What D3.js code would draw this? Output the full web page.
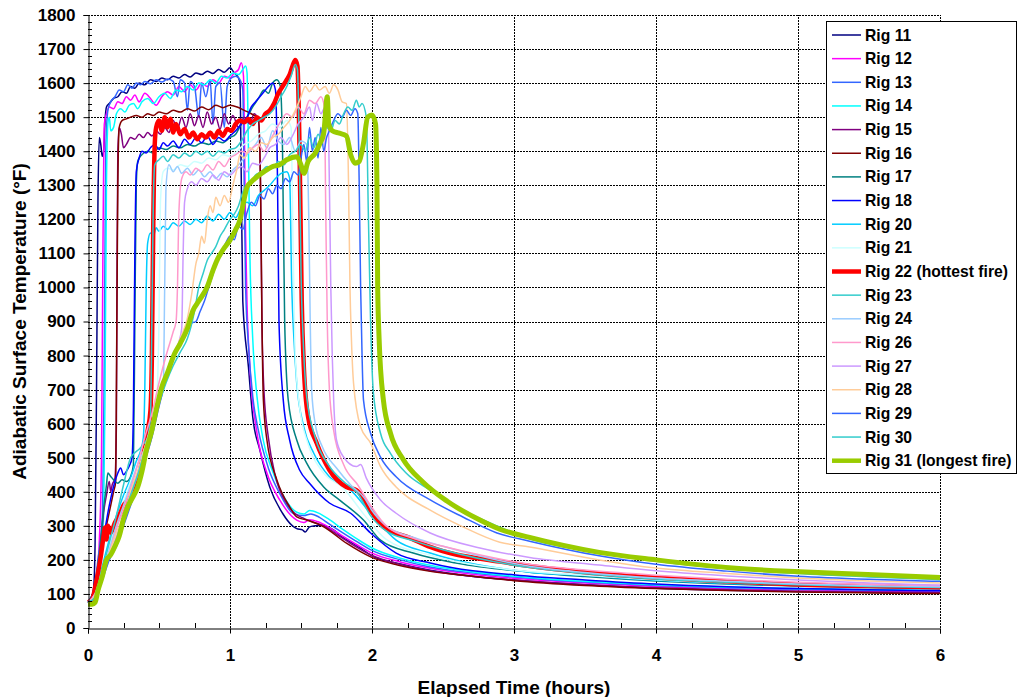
<!DOCTYPE html>
<html><head><meta charset="utf-8">
<script src="https://cdn.jsdelivr.net/npm/d3@7"></script>
<style>body{margin:0;background:#fff} svg{display:block} text{font-family:Arial,"Liberation Sans",sans-serif;font-weight:bold;fill:#000}</style>
</head><body><svg id="c" width="1021" height="697"></svg>
<script>
const xTicks = [0,1,2,3,4,5,6];
const yTicks = [0,100,200,300,400,500,600,700,800,900,1000,1100,1200,1300,1400,1500,1600,1700,1800];
const rigNames = ["Rig 11","Rig 12","Rig 13","Rig 14","Rig 15","Rig 16","Rig 17","Rig 18","Rig 20","Rig 21","Rig 22 (hottest fire)","Rig 23","Rig 24","Rig 26","Rig 27","Rig 28","Rig 29","Rig 30","Rig 31 (longest fire)"];

const rig11 = [[0,78],[0.02,82],[0.04,120],[0.05,250],[0.06,700],[0.07,1250],[0.08,1440],[0.09,1420],[0.1,1385],[0.11,1400],[0.12,1490],[0.13,1530],[0.15,1540],[0.18,1555],[0.21,1560],[0.24,1575],[0.27,1570],[0.3,1590],[0.33,1585],[0.36,1600],[0.4,1595],[0.44,1610],[0.48,1605],[0.52,1615],[0.56,1610],[0.6,1620],[0.64,1615],[0.68,1625],[0.72,1618],[0.76,1630],[0.8,1625],[0.84,1635],[0.88,1628],[0.92,1640],[0.96,1632],[1.0,1645],[1.03,1630],[1.06,1615],[1.07,1600],[1.08,1300],[1.09,960],[1.13,766],[1.16,620],[1.21,523],[1.28,414],[1.37,337],[1.44,300],[1.47,292],[1.51,288],[1.53,282],[1.56,297],[1.6,300],[1.65,302],[1.72,290],[1.8,265],[1.9,240],[2.0,212],[2.2,188],[2.4,170],[2.7,152],[3.0,141],[3.5,127],[4.0,117],[4.5,111],[5.0,107],[5.5,105],[6.0,103]];
const rig12 = [[0,78],[0.03,92],[0.06,150],[0.08,260],[0.095,500],[0.105,1100],[0.115,1480],[0.13,1510],[0.15,1530],[0.18,1525],[0.21,1545],[0.24,1540],[0.27,1560],[0.3,1550],[0.33,1565],[0.36,1545],[0.4,1570],[0.44,1555],[0.48,1535],[0.52,1560],[0.56,1575],[0.6,1565],[0.64,1590],[0.68,1575],[0.72,1595],[0.76,1580],[0.8,1600],[0.84,1590],[0.88,1610],[0.92,1600],[0.96,1620],[1.0,1615],[1.03,1630],[1.06,1640],[1.08,1660],[1.095,1620],[1.1,1500],[1.11,1150],[1.12,950],[1.14,766],[1.19,572],[1.26,455],[1.35,376],[1.47,317],[1.52,310],[1.56,318],[1.62,312],[1.7,295],[1.8,268],[1.9,243],[2.0,220],[2.2,194],[2.4,176],[2.7,158],[3.0,146],[3.5,132],[4.0,122],[4.5,116],[5.0,112],[5.5,109],[6.0,107]];
const rig13 = [[0,78],[0.04,110],[0.07,200],[0.1,320],[0.115,800],[0.125,1400],[0.14,1520],[0.16,1545],[0.19,1560],[0.22,1580],[0.25,1575],[0.28,1595],[0.31,1585],[0.34,1600],[0.37,1595],[0.4,1605],[0.44,1598],[0.48,1610],[0.52,1603],[0.56,1612],[0.6,1605],[0.63,1560],[0.65,1610],[0.68,1600],[0.7,1520],[0.72,1605],[0.75,1590],[0.78,1500],[0.8,1600],[0.83,1560],[0.86,1610],[0.88,1480],[0.9,1590],[0.93,1600],[0.96,1470],[0.98,1590],[1.01,1615],[1.04,1620],[1.07,1610],[1.09,1580],[1.1,1300],[1.11,1000],[1.13,830],[1.16,680],[1.2,580],[1.27,470],[1.35,395],[1.45,335],[1.52,330],[1.57,335],[1.63,325],[1.7,305],[1.8,278],[1.9,252],[2.0,228],[2.2,200],[2.4,180],[2.7,162],[3.0,150],[3.5,135],[4.0,125],[4.5,118],[5.0,114],[5.5,111],[6.0,109]];
const rig14 = [[0,78],[0.04,105],[0.08,190],[0.11,330],[0.12,700],[0.13,1300],[0.14,1480],[0.15,1500],[0.16,1460],[0.18,1470],[0.2,1510],[0.23,1525],[0.26,1515],[0.29,1535],[0.32,1540],[0.35,1525],[0.38,1545],[0.42,1555],[0.46,1540],[0.5,1560],[0.54,1570],[0.58,1555],[0.62,1580],[0.66,1575],[0.7,1590],[0.74,1580],[0.78,1600],[0.82,1595],[0.86,1610],[0.9,1600],[0.94,1620],[0.98,1615],[1.02,1630],[1.06,1625],[1.09,1640],[1.11,1650],[1.12,1630],[1.13,1400],[1.14,1100],[1.16,850],[1.19,680],[1.23,560],[1.3,460],[1.38,385],[1.47,340],[1.52,335],[1.56,345],[1.62,338],[1.7,318],[1.8,288],[1.9,260],[2.0,235],[2.2,205],[2.4,185],[2.7,165],[3.0,152],[3.5,137],[4.0,127],[4.5,120],[5.0,116],[5.5,113],[6.0,111]];
const rig15 = [[0,75],[0.04,100],[0.08,200],[0.11,340],[0.13,390],[0.15,430],[0.16,400],[0.17,420],[0.19,440],[0.2,600],[0.205,1100],[0.21,1400],[0.22,1470],[0.235,1450],[0.25,1410],[0.27,1420],[0.3,1440],[0.33,1435],[0.36,1450],[0.39,1440],[0.42,1455],[0.45,1445],[0.48,1460],[0.51,1450],[0.54,1470],[0.57,1455],[0.6,1490],[0.63,1465],[0.66,1500],[0.69,1470],[0.72,1510],[0.75,1475],[0.78,1505],[0.81,1470],[0.84,1515],[0.87,1480],[0.9,1500],[0.93,1465],[0.96,1510],[0.99,1480],[1.02,1505],[1.06,1470],[1.1,1500],[1.14,1480],[1.17,1510],[1.2,1490],[1.215,1300],[1.225,900],[1.24,690],[1.27,560],[1.32,445],[1.4,365],[1.46,335],[1.52,322],[1.58,312],[1.66,300],[1.75,275],[1.85,248],[2.0,213],[2.2,187],[2.4,169],[2.7,152],[3.0,141],[3.5,127],[4.0,118],[4.5,112],[5.0,108],[5.5,106],[6.0,104]];
const rig16 = [[0,75],[0.05,110],[0.09,200],[0.12,280],[0.15,340],[0.18,400],[0.195,430],[0.2,700],[0.21,1300],[0.22,1470],[0.24,1490],[0.27,1495],[0.3,1500],[0.34,1505],[0.38,1500],[0.42,1510],[0.46,1505],[0.5,1515],[0.55,1510],[0.6,1520],[0.65,1515],[0.7,1525],[0.75,1518],[0.8,1530],[0.85,1522],[0.9,1535],[0.95,1528],[1.0,1535],[1.05,1530],[1.1,1520],[1.15,1510],[1.2,1495],[1.215,1300],[1.225,900],[1.235,670],[1.26,552],[1.33,435],[1.42,356],[1.47,326],[1.54,317],[1.66,297],[1.82,249],[1.99,209],[2.18,185],[2.4,167],[2.64,155],[3.0,139],[3.5,125],[4.0,116],[4.5,110],[5.0,106],[5.5,103],[6.0,101]];
const rig17 = [[0,75],[0.04,110],[0.08,220],[0.11,350],[0.13,420],[0.14,455],[0.16,445],[0.18,435],[0.21,425],[0.24,435],[0.27,430],[0.3,445],[0.32,480],[0.33,900],[0.34,1300],[0.35,1370],[0.38,1390],[0.42,1400],[0.46,1395],[0.5,1410],[0.55,1405],[0.6,1415],[0.65,1410],[0.7,1420],[0.75,1415],[0.8,1425],[0.85,1420],[0.9,1430],[0.95,1425],[1.0,1440],[1.04,1450],[1.08,1480],[1.12,1500],[1.16,1530],[1.2,1555],[1.24,1580],[1.27,1570],[1.3,1600],[1.33,1610],[1.355,1590],[1.37,1400],[1.385,900],[1.41,670],[1.47,552],[1.54,484],[1.66,414],[1.77,376],[1.94,317],[2.06,258],[2.29,220],[2.6,190],[3.11,164],[3.5,151],[4.0,138],[4.5,129],[5.0,123],[5.5,119],[6.0,116]];
const rig18 = [[0,75],[0.05,120],[0.1,240],[0.15,360],[0.19,430],[0.21,455],[0.23,470],[0.25,450],[0.27,460],[0.29,475],[0.31,500],[0.32,650],[0.33,1100],[0.34,1340],[0.36,1380],[0.38,1400],[0.41,1395],[0.44,1410],[0.47,1420],[0.5,1405],[0.53,1425],[0.56,1415],[0.6,1430],[0.64,1410],[0.68,1435],[0.72,1420],[0.76,1440],[0.8,1425],[0.84,1445],[0.88,1420],[0.92,1440],[0.96,1430],[1.0,1445],[1.04,1460],[1.08,1480],[1.12,1500],[1.15,1530],[1.18,1545],[1.21,1560],[1.24,1575],[1.27,1590],[1.3,1600],[1.32,1580],[1.335,1300],[1.345,900],[1.375,670],[1.42,552],[1.49,464],[1.56,425],[1.7,367],[1.85,337],[1.99,279],[2.17,220],[2.41,191],[3.11,152],[3.5,141],[4.0,129],[4.5,121],[5.0,116],[5.5,112],[6.0,110]];
const rig20 = [[0,75],[0.05,100],[0.1,180],[0.15,260],[0.2,330],[0.25,390],[0.3,440],[0.34,490],[0.37,520],[0.39,560],[0.4,700],[0.41,1000],[0.42,1130],[0.44,1160],[0.46,1150],[0.48,1175],[0.5,1165],[0.53,1180],[0.56,1170],[0.6,1190],[0.64,1180],[0.68,1195],[0.72,1185],[0.76,1200],[0.8,1190],[0.84,1210],[0.88,1195],[0.92,1215],[0.96,1200],[1.0,1220],[1.04,1205],[1.08,1235],[1.12,1250],[1.16,1240],[1.2,1270],[1.24,1285],[1.28,1300],[1.32,1320],[1.36,1335],[1.4,1340],[1.42,1320],[1.435,1000],[1.45,850],[1.47,719],[1.52,590],[1.59,513],[1.7,444],[1.85,405],[1.99,337],[2.17,258],[2.41,220],[3.11,164],[3.5,154],[4.0,140],[4.5,131],[5.0,125],[5.5,120],[6.0,117]];
const rig21 = [[0,75],[0.05,100],[0.1,170],[0.15,240],[0.2,310],[0.25,370],[0.3,430],[0.35,480],[0.4,540],[0.45,600],[0.48,650],[0.5,900],[0.51,1250],[0.53,1340],[0.56,1350],[0.6,1345],[0.65,1360],[0.7,1355],[0.75,1370],[0.8,1365],[0.85,1380],[0.9,1375],[0.95,1390],[1.0,1385],[1.05,1400],[1.1,1420],[1.15,1430],[1.2,1450],[1.25,1460],[1.3,1480],[1.35,1470],[1.4,1490],[1.43,1470],[1.445,1100],[1.46,800],[1.49,650],[1.55,540],[1.65,460],[1.8,410],[1.95,330],[2.1,260],[2.4,215],[3.0,170],[3.5,155],[4.0,142],[4.5,133],[5.0,126],[5.5,121],[6.0,118]];
const rig22 = [[0,75],[0.03,85],[0.06,140],[0.09,210],[0.11,270],[0.12,295],[0.13,260],[0.14,300],[0.16,280],[0.19,310],[0.22,330],[0.25,360],[0.28,375],[0.31,395],[0.34,420],[0.37,470],[0.4,530],[0.42,580],[0.44,640],[0.45,800],[0.46,1200],[0.47,1420],[0.48,1470],[0.5,1490],[0.52,1460],[0.54,1500],[0.56,1470],[0.58,1495],[0.6,1455],[0.62,1480],[0.65,1450],[0.68,1465],[0.71,1440],[0.74,1455],[0.77,1435],[0.8,1450],[0.83,1440],[0.86,1455],[0.89,1440],[0.92,1460],[0.95,1445],[0.98,1465],[1.01,1460],[1.04,1480],[1.07,1490],[1.1,1485],[1.13,1495],[1.16,1480],[1.19,1500],[1.22,1490],[1.25,1510],[1.28,1520],[1.31,1540],[1.34,1570],[1.37,1590],[1.4,1610],[1.42,1625],[1.44,1650],[1.46,1668],[1.475,1650],[1.49,1400],[1.505,963],[1.52,766],[1.55,620],[1.61,543],[1.7,464],[1.82,414],[1.89,405],[1.99,346],[2.08,297],[2.27,264],[2.41,238],[2.9,195],[3.11,182],[3.5,164],[4.0,148],[4.5,137],[5.0,128],[5.5,123],[6.0,120]];
const rig23 = [[0,75],[0.05,100],[0.1,170],[0.15,250],[0.2,330],[0.25,420],[0.3,500],[0.33,515],[0.36,525],[0.39,540],[0.42,560],[0.44,620],[0.45,900],[0.46,1250],[0.47,1360],[0.5,1375],[0.53,1385],[0.56,1370],[0.6,1390],[0.64,1380],[0.68,1395],[0.72,1385],[0.76,1400],[0.8,1390],[0.84,1400],[0.88,1385],[0.92,1400],[0.96,1395],[1.0,1405],[1.04,1410],[1.08,1430],[1.12,1460],[1.16,1480],[1.2,1490],[1.24,1500],[1.28,1510],[1.32,1530],[1.36,1560],[1.4,1590],[1.43,1620],[1.46,1655],[1.475,1640],[1.49,1350],[1.5,1050],[1.515,850],[1.54,680],[1.6,560],[1.7,475],[1.8,430],[1.9,395],[1.99,330],[2.1,285],[2.3,255],[2.5,230],[3.1,178],[3.5,160],[4.0,144],[4.5,134],[5.0,127],[5.5,122],[6.0,119]];
const rig24 = [[0,75],[0.05,100],[0.1,160],[0.15,230],[0.2,300],[0.25,360],[0.3,420],[0.35,480],[0.4,530],[0.45,600],[0.5,660],[0.53,700],[0.54,1000],[0.55,1300],[0.57,1360],[0.6,1340],[0.63,1355],[0.66,1335],[0.7,1350],[0.74,1330],[0.78,1345],[0.82,1325],[0.86,1340],[0.9,1320],[0.94,1335],[0.98,1325],[1.02,1345],[1.06,1360],[1.1,1380],[1.14,1400],[1.18,1420],[1.22,1440],[1.26,1410],[1.3,1460],[1.34,1430],[1.38,1420],[1.42,1440],[1.46,1400],[1.5,1430],[1.54,1420],[1.555,1200],[1.565,900],[1.575,700],[1.6,600],[1.65,532],[1.75,470],[1.85,420],[1.95,380],[2.0,345],[2.1,300],[2.3,265],[2.5,240],[3.1,182],[3.5,163],[4.0,147],[4.5,137],[5.0,129],[5.5,124],[6.0,121]];
const rig26 = [[0,75],[0.05,100],[0.1,160],[0.15,220],[0.2,290],[0.25,350],[0.3,410],[0.35,480],[0.4,560],[0.45,630],[0.5,720],[0.55,800],[0.6,870],[0.62,900],[0.63,1000],[0.64,1220],[0.66,1320],[0.69,1340],[0.72,1330],[0.76,1350],[0.8,1340],[0.84,1360],[0.88,1345],[0.92,1370],[0.96,1355],[1.0,1380],[1.04,1390],[1.08,1400],[1.12,1395],[1.16,1410],[1.2,1420],[1.24,1400],[1.28,1430],[1.32,1460],[1.36,1490],[1.4,1510],[1.44,1500],[1.48,1530],[1.52,1510],[1.56,1550],[1.6,1540],[1.64,1560],[1.665,1530],[1.675,1200],[1.685,900],[1.7,700],[1.73,580],[1.8,480],[1.9,420],[1.99,360],[2.1,300],[2.3,262],[2.5,240],[3.1,188],[3.5,170],[4.0,155],[4.5,143],[5.0,134],[5.5,128],[6.0,124]];
const rig27 = [[0,75],[0.05,95],[0.1,150],[0.15,210],[0.2,270],[0.25,330],[0.3,390],[0.35,450],[0.4,520],[0.45,590],[0.5,670],[0.55,740],[0.6,800],[0.64,840],[0.66,880],[0.67,1100],[0.68,1250],[0.7,1290],[0.73,1310],[0.76,1300],[0.8,1320],[0.84,1310],[0.88,1330],[0.92,1315],[0.96,1340],[1.0,1330],[1.04,1345],[1.08,1355],[1.12,1340],[1.16,1365],[1.2,1360],[1.24,1380],[1.28,1410],[1.32,1420],[1.36,1440],[1.4,1420],[1.44,1445],[1.48,1480],[1.52,1500],[1.56,1530],[1.58,1490],[1.61,1540],[1.64,1510],[1.67,1530],[1.69,1510],[1.7,1300],[1.71,1000],[1.72,800],[1.73,670],[1.75,552],[1.8,502],[1.89,474],[1.92,480],[1.96,440],[2.06,376],[2.17,337],[2.41,279],[2.76,235],[3.11,207],[3.6,185],[4.0,168],[4.5,153],[5.0,141],[5.5,132],[6.0,126]];
const rig28 = [[0,75],[0.05,95],[0.1,160],[0.15,220],[0.2,280],[0.25,330],[0.3,400],[0.35,460],[0.4,530],[0.45,600],[0.5,680],[0.55,740],[0.6,790],[0.65,850],[0.7,910],[0.73,980],[0.76,1070],[0.78,1100],[0.8,1150],[0.82,1130],[0.84,1200],[0.86,1240],[0.88,1220],[0.9,1265],[0.93,1240],[0.96,1270],[0.99,1250],[1.02,1300],[1.05,1350],[1.07,1390],[1.1,1380],[1.14,1410],[1.18,1400],[1.22,1425],[1.26,1420],[1.3,1440],[1.34,1450],[1.38,1470],[1.42,1490],[1.46,1520],[1.5,1560],[1.53,1590],[1.56,1575],[1.6,1595],[1.63,1580],[1.67,1590],[1.7,1570],[1.73,1595],[1.76,1580],[1.79,1545],[1.82,1540],[1.835,1300],[1.845,1000],[1.855,850],[1.87,719],[1.92,590],[1.99,543],[2.06,474],[2.17,414],[2.41,346],[2.64,297],[2.9,252],[3.11,238],[3.6,200],[4.0,176],[4.5,160],[5.0,147],[5.5,138],[6.0,132]];
const rig29 = [[0,75],[0.05,90],[0.1,140],[0.15,200],[0.2,240],[0.25,300],[0.3,360],[0.35,420],[0.4,490],[0.45,560],[0.5,650],[0.55,730],[0.6,790],[0.65,830],[0.7,870],[0.73,895],[0.76,900],[0.79,930],[0.82,960],[0.85,1000],[0.88,1040],[0.91,1080],[0.94,1100],[0.97,1130],[1.0,1150],[1.03,1140],[1.06,1180],[1.09,1170],[1.12,1220],[1.15,1250],[1.18,1240],[1.21,1270],[1.24,1260],[1.27,1290],[1.3,1275],[1.33,1300],[1.36,1290],[1.39,1320],[1.42,1310],[1.45,1340],[1.48,1330],[1.5,1380],[1.52,1420],[1.54,1370],[1.56,1470],[1.58,1400],[1.6,1440],[1.62,1380],[1.64,1470],[1.66,1400],[1.68,1440],[1.7,1460],[1.73,1490],[1.76,1510],[1.79,1500],[1.82,1520],[1.85,1505],[1.88,1525],[1.9,1510],[1.91,1300],[1.92,1000],[1.93,800],[1.94,670],[1.99,572],[2.06,502],[2.17,444],[2.41,376],[2.64,326],[2.88,279],[3.11,255],[3.6,212],[4.0,187],[4.5,167],[5.0,152],[5.5,143],[6.0,137]];
const rig30 = [[0,75],[0.05,90],[0.1,150],[0.15,210],[0.2,260],[0.25,330],[0.3,390],[0.35,450],[0.4,520],[0.45,590],[0.5,660],[0.55,720],[0.6,770],[0.65,810],[0.7,850],[0.75,930],[0.78,1000],[0.81,1040],[0.84,1080],[0.87,1100],[0.9,1120],[0.93,1150],[0.96,1170],[1.0,1200],[1.03,1215],[1.06,1240],[1.09,1280],[1.12,1300],[1.15,1310],[1.18,1330],[1.22,1340],[1.26,1355],[1.3,1350],[1.34,1370],[1.38,1360],[1.42,1390],[1.46,1400],[1.5,1420],[1.53,1400],[1.56,1440],[1.59,1410],[1.62,1450],[1.65,1430],[1.68,1470],[1.71,1460],[1.74,1490],[1.77,1480],[1.8,1510],[1.83,1530],[1.86,1520],[1.89,1550],[1.91,1530],[1.93,1540],[1.96,1500],[1.975,1200],[1.99,900],[2.01,690],[2.06,572],[2.13,513],[2.24,455],[2.41,405],[2.64,346],[2.88,300],[3.11,262],[3.6,222],[4.0,196],[4.5,175],[5.0,160],[5.5,150],[6.0,142]];
const rig31 = [[0,70],[0.03,70],[0.05,75],[0.07,110],[0.1,150],[0.13,200],[0.16,215],[0.19,240],[0.22,270],[0.25,320],[0.28,356],[0.31,380],[0.35,414],[0.38,460],[0.41,520],[0.45,581],[0.48,640],[0.52,708],[0.56,750],[0.61,806],[0.65,836],[0.7,880],[0.74,933],[0.78,960],[0.84,1002],[0.88,1050],[0.91,1081],[0.95,1110],[1.0,1139],[1.04,1170],[1.07,1198],[1.1,1260],[1.12,1295],[1.15,1310],[1.19,1325],[1.24,1340],[1.3,1355],[1.35,1360],[1.4,1375],[1.47,1384],[1.5,1360],[1.52,1335],[1.55,1370],[1.6,1394],[1.63,1420],[1.66,1453],[1.685,1560],[1.695,1480],[1.72,1460],[1.77,1453],[1.82,1445],[1.85,1390],[1.88,1365],[1.91,1370],[1.94,1423],[1.97,1500],[2.0,1506],[2.025,1480],[2.035,1300],[2.04,1000],[2.05,850],[2.08,670],[2.13,572],[2.22,495],[2.36,428],[2.53,372],[2.76,317],[2.9,290],[3.11,266],[3.6,222],[4.0,200],[4.54,176],[5.01,165],[5.49,157],[6.0,148]];

const rigData = [rig11,rig12,rig13,rig14,rig15,rig16,rig17,rig18,rig20,rig21,rig22,rig23,rig24,rig26,rig27,rig28,rig29,rig30,rig31];
const rigColors = ["#000080","#FF00FF","#3366FF","#00FFFF","#800080","#800000","#008080","#0000FF","#00CCFF","#CCFFFF","#FF0000","#33CCCC","#99CCFF","#FF99CC","#CC99FF","#FFCC99","#3366FF","#33CCCC","#99CC00"];
const rigWidths = [1.5,1.5,1.5,1.5,1.5,1.5,1.5,1.5,1.5,1.5,4.5,1.5,1.5,1.5,1.5,1.5,1.5,1.5,5];

const svg = d3.select("#c");
const x = d3.scaleLinear().domain([0,6]).range([88,940]);
const y = d3.scaleLinear().domain([0,1800]).range([628,15]);
const px = v => Math.round(v) + 0.5;

// gridlines
const grid = svg.append("g").attr("shape-rendering","crispEdges");
grid.selectAll("line.h").data(yTicks.filter(d=>d>0)).enter().append("line")
  .attr("x1",x(0)).attr("x2",x(6)).attr("y1",d=>px(y(d))).attr("y2",d=>px(y(d)))
  .attr("stroke","#000").attr("stroke-width",1).attr("stroke-dasharray","2,1");
grid.selectAll("line.v").data(xTicks.filter(d=>d>0)).enter().append("line")
  .attr("y1",y(0)).attr("y2",y(1800)).attr("x1",d=>px(x(d))).attr("x2",d=>px(x(d)))
  .attr("stroke","#000").attr("stroke-width",1).attr("stroke-dasharray","2,1");

// series
const line = d3.line().x(d=>x(d[0])).y(d=>y(d[1])).curve(d3.curveMonotoneX);
const lg = svg.append("g");
rigData.forEach((data,i)=>{
  lg.append("path").datum(data).attr("d",line).attr("fill","none")
    .attr("stroke",rigColors[i]).attr("stroke-width",rigWidths[i]).attr("stroke-linejoin","round");
});

// axes
const yAxis = d3.axisLeft(y).tickValues(yTicks).tickFormat(d3.format("d")).tickSize(5).tickPadding(8);
const gy = svg.append("g").attr("transform",`translate(${px(x(0))},0)`).call(yAxis);
gy.select(".domain").attr("stroke","#000");
gy.selectAll("text").style("font-size","17px").style("font-weight","bold");
const yMinor = d3.range(0,1800,20).filter(v=>v%100!==0);
svg.append("g").attr("shape-rendering","crispEdges").selectAll("line").data(yMinor).enter().append("line")
  .attr("x1",x(0)).attr("x2",x(0)+4).attr("y1",d=>px(y(d))).attr("y2",d=>px(y(d))).attr("stroke","#000");
const xAxis = d3.axisBottom(x).tickValues(xTicks).tickFormat(d3.format("d")).tickSize(5).tickPadding(15);
const gx = svg.append("g").attr("transform",`translate(0,${px(y(0))})`).call(xAxis);
gx.select(".domain").attr("stroke","#000");
gx.selectAll("text").style("font-size","17px").style("font-weight","bold");
const xMinor = d3.range(0,6,0.25).filter(v=>v%1!==0);
svg.append("g").attr("shape-rendering","crispEdges").selectAll("line").data(xMinor).enter().append("line")
  .attr("y1",y(0)).attr("y2",y(0)-5).attr("x1",d=>px(x(d))).attr("x2",d=>px(x(d))).attr("stroke","#000");

svg.append("text").attr("x",(x(0)+x(6))/2).attr("y",694).attr("text-anchor","middle")
  .style("font-size","19px").text("Elapsed Time (hours)");
svg.append("text").attr("transform",`translate(26,${(y(0)+y(1800))/2}) rotate(-90)`).attr("text-anchor","middle")
  .style("font-size","19px").text("Adiabatic Surface Temperature (°F)");

// legend
const leg = svg.append("g");
leg.append("rect").attr("x",826.5).attr("y",21.5).attr("width",190).attr("height",452)
  .attr("fill","#fff").attr("stroke","#000").attr("stroke-width",1);
rigNames.forEach((n,i)=>{
  const yy = 35 + i*23.65;
  leg.append("line").attr("x1",832).attr("x2",861).attr("y1",yy).attr("y2",yy)
    .attr("stroke",rigColors[i]).attr("stroke-width",Math.min(rigWidths[i],4.5));
  leg.append("text").attr("x",865).attr("y",yy+5.5).style("font-size","15.7px").text(n);
});
</script></body></html>
